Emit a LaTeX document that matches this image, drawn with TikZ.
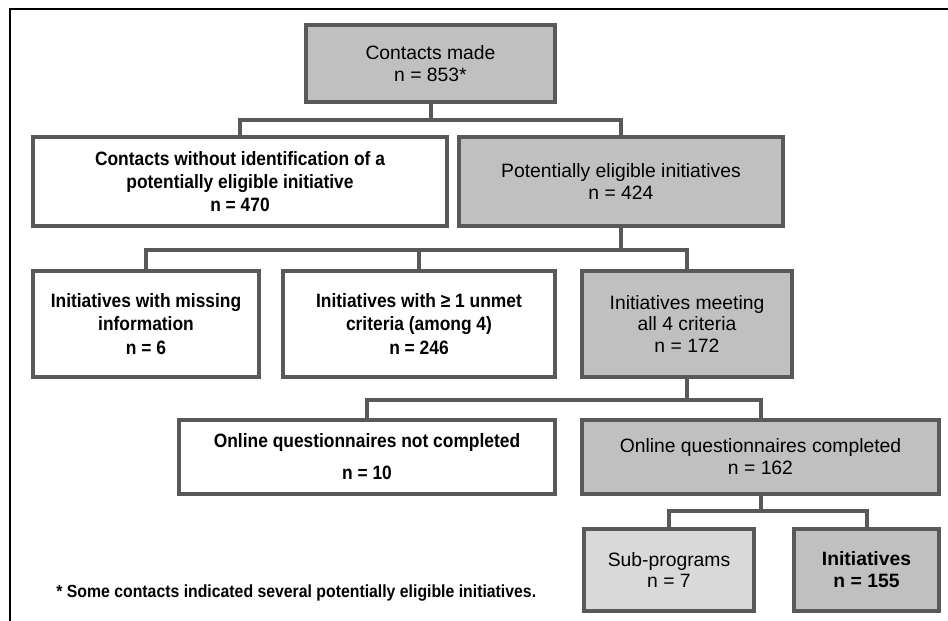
\documentclass[tikz,border=0pt]{standalone}
\usepackage{fontspec}
\setmainfont{Liberation Sans}
\newfontfamily\narrowbf{Liberation Sans}[FakeStretch=0.9]
\definecolor{boxline}{HTML}{595959}
\definecolor{keptgray}{HTML}{C0C0C0}
\definecolor{subgray}{HTML}{D9D9D9}

\begin{document}
\begin{tikzpicture}[x=0.02cm,y=-0.02cm,
  box/.style={draw=boxline,line width=0.08cm,align=center,inner sep=2pt,
    font=\fontsize{11}{12.5}\selectfont},
  kept/.style={box,fill=keptgray},
  excl/.style={box,fill=white,font=\fontsize{11}{13.2}\selectfont\narrowbf\bfseries},
  link/.style={draw=boxline,line width=0.08cm}]

\useasboundingbox (0,0) rectangle (948,621);
\draw[black,line width=1.2pt] (10,625)--(10,9)--(952,9);%frame

\node[kept,minimum width=4.98cm,minimum height=1.54cm] (contacts) at (430.5,63.5) {Contacts made\\n = 853*};

\node[excl,minimum width=8.28cm,minimum height=1.77cm] (noinit) at (240,181.5) {Contacts without identification of a\\potentially eligible initiative\\n = 470};
\node[kept,minimum width=6.48cm,minimum height=1.77cm] (eligible) at (621,181.5) {Potentially eligible initiatives\\n = 424};

\node[excl,minimum width=4.52cm,minimum height=2.12cm] (missing) at (146,324) {Initiatives with missing\\information\\n = 6};
\node[excl,minimum width=5.44cm,minimum height=2.12cm] (unmet) at (419,324) {Initiatives with ≥ 1 unmet\\criteria (among 4)\\n = 246};
\node[kept,minimum width=4.2cm,minimum height=2.12cm] (meeting) at (687,324) {Initiatives meeting\\all 4 criteria\\n = 172};

\node[excl,minimum width=7.52cm,minimum height=1.48cm] (notdone) at (367,457) {Online questionnaires not completed\\[5pt]n = 10};
\node[kept,minimum width=7.14cm,minimum height=1.48cm] (done) at (760.5,457) {Online questionnaires completed\\n = 162};

\node[box,fill=subgray,minimum width=3.4cm,minimum height=1.64cm] (subprog) at (669,570) {Sub-programs\\n = 7};
\node[kept,font=\fontsize{11}{12.5}\selectfont\bfseries,minimum width=2.9cm,minimum height=1.64cm] (initiatives) at (866.5,570) {Initiatives\\n = 155};

\node[anchor=west,inner sep=0pt,font=\fontsize{10}{12}\selectfont\narrowbf\bfseries] (note) at (56,593) {* Some contacts indicated several potentially eligible initiatives.};

% tree connectors
\draw[link] (contacts.south)--++(0,16)-|(noinit.north);
\draw[link] (contacts.south)--++(0,16)-|(eligible.north);
\draw[link] (eligible.south)--++(0,22)-|(missing.north);
\draw[link] (eligible.south)--++(0,22)-|(unmet.north);
\draw[link] (eligible.south)--++(0,22)-|(meeting.north);
\draw[link] (meeting.south)--++(0,21)-|(notdone.north);
\draw[link] (meeting.south)--++(0,21)-|(done.north);
\draw[link] (done.south)--++(0,15)-|(subprog.north);
\draw[link] (done.south)--++(0,15)-|(initiatives.north);
\end{tikzpicture}
\end{document}
